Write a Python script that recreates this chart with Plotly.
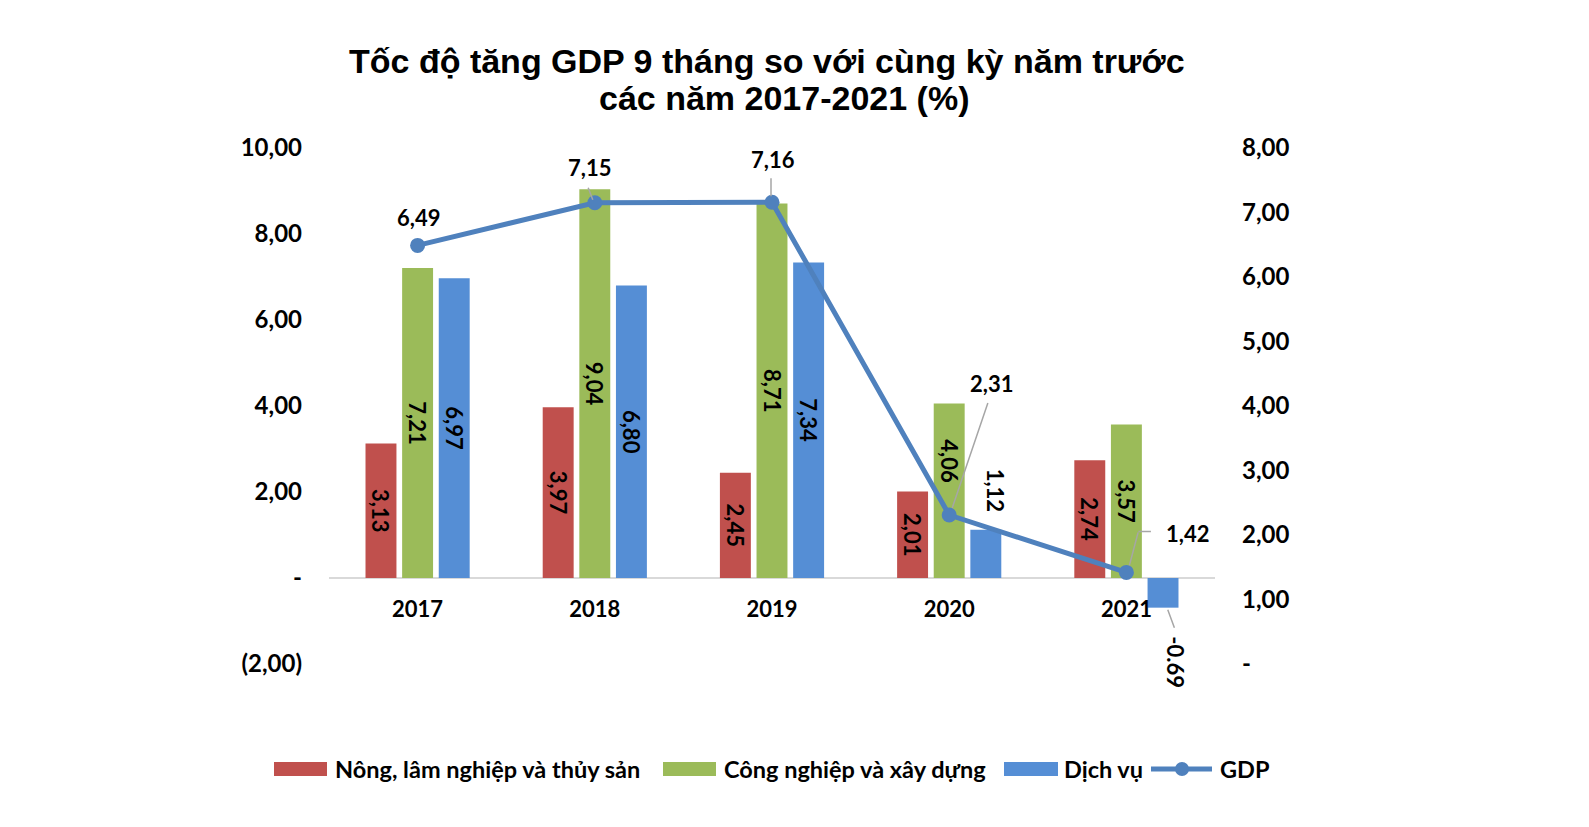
import plotly.graph_objects as go

# ---------------- data ----------------
years = ["2017", "2018", "2019", "2020", "2021"]
agri = [3.13, 3.97, 2.45, 2.01, 2.74]
industry = [7.21, 9.04, 8.71, 4.06, 3.57]
services = [6.97, 6.80, 7.34, 1.12, -0.69]
gdp = [6.49, 7.15, 7.16, 2.31, 1.42]
series_names = ["Nông, lâm nghiệp và thủy sản", "Công nghiệp và xây dựng", "Dịch vụ", "GDP"]
left_tickvals = [-2, 0, 2, 4, 6, 8, 10]
left_ticktext = ["(2,00)", "-", "2,00", "4,00", "6,00", "8,00", "10,00"]
right_tickvals = [0, 1, 2, 3, 4, 5, 6, 7, 8]
right_ticktext = ["-", "1,00", "2,00", "3,00", "4,00", "5,00", "6,00", "7,00", "8,00"]
title_lines = ["Tốc độ tăng GDP 9 tháng so với cùng kỳ năm trước", "các năm 2017-2021 (%)"]

# ---------------- style ----------------
RED, GREEN, BLUE, LINE = "#C0504D", "#9BBB59", "#558ED5", "#4F81BD"
LEADER = "#A6A6A6"
FONT = "Lato, 'Open Sans', sans-serif"
TITLE_FONT = "'Liberation Sans', Arial, sans-serif"

W, H = 1589, 827
PAGE_OFF = 8  # default body margin of the html page
# plot area in screen pixels
L, R, T, B = 329, 1215, 148, 664


def px(x):
    return (x - L) / (R - L)


def py(y):
    return (B - y) / (B - T)


industry_textpos = ["inside", "inside", "inside", "none", "inside"]
services_textpos = ["inside", "inside", "inside", "none", "none"]
xi = list(range(len(years)))

fig = go.Figure()
lab_font = dict(family=FONT, size=22, color="black", weight="bold")
for name, vals, col, pos in [
    (series_names[0], agri, RED, "inside"),
    (series_names[1], industry, GREEN, industry_textpos),
    (series_names[2], services, BLUE, services_textpos),
]:
    fig.add_trace(go.Bar(
        x=years, y=vals, name=name, marker=dict(color=col, line=dict(width=0)),
        texttemplate="%{y:.2f}", textposition=pos, textangle=90,
        insidetextanchor="middle", textfont=lab_font, insidetextfont=lab_font,
        outsidetextfont=lab_font, constraintext="none", cliponaxis=False,
        showlegend=False, yaxis="y",
    ))

fig.add_trace(go.Scatter(
    x=years, y=gdp, name=series_names[3], mode="lines+markers", yaxis="y2",
    line=dict(color=LINE, width=5), marker=dict(color=LINE, size=15),
    showlegend=False, cliponaxis=False,
))

annotations = []
# GDP value labels (offsets in px relative to each point: dx right, dy down)
gdp_label_offsets = [(1, -28), (-5, -35), (1, -43), (42, -132), (61, -39)]
for i, v, (dx, dy) in zip(xi, gdp, gdp_label_offsets):
    annotations.append(dict(
        x=i, y=v, xref="x", yref="y2", text=f"{v:.2f}".replace(".", ","),
        showarrow=False, xshift=dx, yshift=-dy,
        font=dict(family=FONT, size=22, color="black", weight="bold"),
    ))

# leader lines: (point index, start offset, end offset)
gdp_leaders = [
    (1, (-7, -16), (-2, -3)),
    (2, (-1, -25), (-1, -6)),
    (3, (39, -113), (3, -7)),
    (4, (12, -41), (3, -7)),
    (4, (25, -41), (12, -41)),
]
for i, (sx, sy), (ex, ey) in gdp_leaders:
    annotations.append(dict(
        x=i, y=gdp[i], xref="x", yref="y2", text=" ", font=dict(size=1),
        showarrow=True, arrowhead=0, arrowwidth=1.5, arrowcolor=LEADER,
        xshift=ex, yshift=-ey, ax=sx - ex, ay=sy - ey, standoff=0, borderpad=0,
    ))


def fmt(v):
    return f"{v:.2f}" if v < 0 else f"{v:.2f}".replace(".", ",")


# bar labels placed manually (index -> offset in px from the bar end)
blue_shift = 39
industry_manual = {3: (0, 58)}
services_manual = {3: (7, -40), 4: (10, 55)}
for vals, manual, shift in [(industry, industry_manual, 0), (services, services_manual, blue_shift)]:
    for i, (dx, dy) in manual.items():
        v = vals[i]
        annotations.append(dict(
            x=i, y=v, xref="x", yref="y", text=fmt(v),
            showarrow=False, textangle=90, xshift=shift + dx, yshift=-dy,
            font=dict(family=FONT, size=22, color="black", weight="bold"),
        ))
# leader for negative label
annotations.append(dict(
    x=4, y=services[4], xref="x", yref="y", text=" ", font=dict(size=1),
    showarrow=True, arrowhead=0, arrowwidth=1.5, arrowcolor=LEADER,
    xshift=blue_shift + 9, yshift=-20, ax=-7, ay=-19, standoff=0, borderpad=0,
))

# ---------------- title (two centred lines) ----------------
title_pos = [(767, 61), (784, 98)]
for txt, (cx, cy) in zip(title_lines, title_pos):
    annotations.append(dict(x=px(cx), y=py(cy), xref="paper", yref="paper", text=txt,
                            xanchor="center", yanchor="middle", showarrow=False,
                            font=dict(family=TITLE_FONT, size=34, color="black", weight="bold")))

# ---------------- manual legend ----------------
shapes = []
leg_y0, leg_y1, leg_yc = 762, 776, 769
LEG_FONT = dict(family=FONT, size=23.5, color="black", weight="bold")
swatches = [(274, 327, RED, 333), (663, 716, GREEN, 722), (1004, 1058, BLUE, 1062)]
for (x0, x1, col, tx), nm in zip(swatches, series_names[:3]):
    shapes.append(dict(type="rect", xref="paper", yref="paper", x0=px(x0), x1=px(x1),
                       y0=py(leg_y1), y1=py(leg_y0), fillcolor=col, line=dict(width=0)))
    annotations.append(dict(x=px(tx), y=py(leg_yc), xref="paper", yref="paper", text=nm,
                            xanchor="left", yanchor="middle", showarrow=False, font=LEG_FONT))
shapes.append(dict(type="line", xref="paper", yref="paper", x0=px(1151), x1=px(1212),
                   y0=py(leg_yc), y1=py(leg_yc), line=dict(color=LINE, width=5)))
shapes.append(dict(type="circle", xref="paper", yref="paper", x0=px(1175), x1=px(1189),
                   y0=py(776), y1=py(762), fillcolor=LINE, line=dict(width=0)))
annotations.append(dict(x=px(1218), y=py(leg_yc), xref="paper", yref="paper", text=series_names[3],
                        xanchor="left", yanchor="middle", showarrow=False, font=LEG_FONT))

tick_font = dict(family=FONT, size=24, color="black", weight="bold")
fig.update_layout(
    width=W, height=H,
    margin=dict(l=L - PAGE_OFF, r=W - (R - PAGE_OFF), t=T - PAGE_OFF, b=H - (B - PAGE_OFF),
                autoexpand=False),
    paper_bgcolor="white", plot_bgcolor="white",
    separators=",.",
    barmode="group", bargap=0.38, bargroupgap=0.155,
    font=dict(family=FONT, color="black"),
    xaxis=dict(type="category", range=[-0.5, len(years) - 0.5], autorange=False,
               anchor="free", position=1 / 6, showline=False,
               showgrid=False, ticks="", tickfont=dict(family=FONT, size=22, color="black", weight="bold"),
               ticklabelstandoff=16),
    yaxis=dict(range=[-2, 10], autorange=False, tickvals=left_tickvals, ticktext=left_ticktext,
               showgrid=False, zeroline=True, zerolinecolor="#D9D9D9", zerolinewidth=2,
               showline=False, ticks="", tickfont=tick_font, ticklabelstandoff=26),
    yaxis2=dict(range=[0, 8], autorange=False, tickvals=right_tickvals, ticktext=right_ticktext,
                overlaying="y", side="right", showgrid=False, zeroline=False,
                showline=False, ticks="", tickfont=tick_font, ticklabelstandoff=26),
    shapes=shapes, annotations=annotations,
    showlegend=False,
)

fig.write_html("out.html")
